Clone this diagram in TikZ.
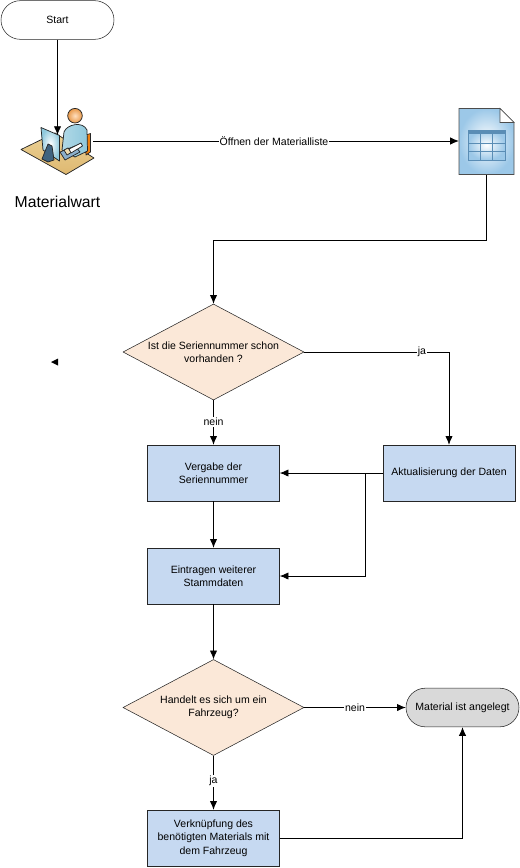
\documentclass[tikz,border=0pt]{standalone}
\usepackage{fontspec}
\setmainfont{Liberation Sans}
\usetikzlibrary{shapes.geometric,shapes.misc,arrows.meta}
\definecolor{boxblue}{HTML}{C6D9F1}
\definecolor{decpeach}{HTML}{FBE8D8}
\definecolor{endgrey}{HTML}{D9D9D9}
\definecolor{linegrey}{HTML}{262626}
\definecolor{deskyellow}{HTML}{E6C67C}
\definecolor{clerkblue}{HTML}{8FC8DC}
\definecolor{docblue}{HTML}{9CC8E8}
\definecolor{gridblue}{HTML}{5A8DB5}
\tikzset{
  flowtext/.style={font=\fontsize{7.9}{10}\selectfont, align=center, text=black},
  terminal/.style={flowtext, draw=linegrey, rounded rectangle, minimum height=29pt, inner sep=0pt},
  procbox/.style={flowtext, draw=linegrey, fill=boxblue, minimum width=99pt, minimum height=42pt, inner sep=0pt},
  decision/.style={flowtext, draw=linegrey, fill=decpeach, diamond, aspect=1.88, minimum width=135.75pt, minimum height=72pt, inner sep=0pt},
  edgelabel/.style={flowtext, fill=white, inner sep=0.6pt},
  flow/.style={draw=black, line width=0.6pt, -{Latex[length=6.5pt,width=5.5pt]}},
  iconline/.style={draw=black!85, line width=0.55pt, line join=round},
}
\begin{document}
\begin{tikzpicture}[x=0.75pt, y=-0.75pt]
    \useasboundingbox (0,0) rectangle (520,868);

    % Define nodes
    \node[terminal, minimum width=84.75pt]             (start) at (57.5,20) {Start};
    \node[inner sep=0pt, minimum width=54pt, minimum height=50pt] (wart) at (57,141) {};
    \node[font=\fontsize{11.8}{13}\selectfont, text=black, inner sep=0pt] (wart-label) at (57.5,202) {Materialwart};
    \node[inner sep=0pt, minimum width=41pt, minimum height=50pt] (list) at (486.5,141.5) {};
    \node[decision]                                    (check) at (213.5,352) {Ist die Seriennummer schon\\vorhanden ?};
    \node[procbox]                                     (assign) at (213.5,473) {Vergabe der\\Seriennummer};
    \node[procbox]                                     (update) at (449,473) {Aktualisierung der Daten};
    \node[procbox]                                     (master) at (213.5,576) {Eintragen weiterer\\Stammdaten};
    \node[decision]                                    (vehicle) at (213.5,707.5) {Handelt es sich um ein\\Fahrzeug?};
    \node[terminal, fill=endgrey, minimum width=84.75pt] (done) at (462.5,707.5) {Material ist angelegt};
    \node[procbox]                                     (link) at (213.5,838) {Verknüpfung des\\benötigten Materials mit\\dem Fahrzeug};
    \coordinate (stray) at (51,362);
    \coordinate (turn-top) at (486.5,240);
    \coordinate (turn-join) at (365,473);

    % Desk and clerk
    \draw[iconline, top color=deskyellow!80!white, bottom color=deskyellow!80!brown] (21,149.5) -- (55,133) -- (94,158) -- (66,174.5) -- cycle;
    \draw[iconline, fill=orange!75!brown] (86,135) -- (90.5,133.5) -- (90.5,152) -- (86,155) -- cycle;
    \draw[iconline, left color=clerkblue!70!white, right color=clerkblue] (64,132) .. controls (67,124) and (83,121) .. (87,130) -- (87.5,151) -- (75,157) -- (62,150) -- cycle;
    \draw[iconline, inner color=orange!25!white, outer color=orange!55!brown!80] (75,115.7) circle (7.3);
    \draw[iconline, fill=gridblue!70!white] (60,152) -- (75,146) -- (80,152) -- (65,160) -- cycle;
    \draw[iconline, fill=deskyellow!60!white] (64,150) -- (68,148) -- (72,152) -- (67,155) -- cycle;
    \draw[iconline, fill=white] (69,149) -- (81,143) -- (82.5,146) -- (71,153) -- cycle;
    \draw[iconline, inner color=white, outer color=clerkblue] (41,127.5) -- (59.5,135.5) -- (59.5,161) -- (43,150) -- cycle;
    \draw[iconline, fill=gridblue!70!black] (42,159) -- (48,144) -- (52,146) -- (54,160) -- (48,162) -- cycle;

    % Table document
    \draw[draw=black!70, line width=0.7pt, inner color=white, outer color=docblue] (459,108.5) -- (500,108.5) -- (514,122.5) -- (514,174.5) -- (459,174.5) -- cycle;
    \draw[draw=black!70, line width=0.5pt, fill=white] (500,108.5) -- (500,122.5) -- (514,122.5) -- cycle;
    \draw[draw=gridblue, line width=0.5pt, inner color=white, outer color=docblue] (468,130) rectangle (505,160);
    \fill[gridblue] (468,130) rectangle (505,134);
    \foreach \x in {480.5,492.5}
      \draw[draw=gridblue, line width=0.6pt] (\x,134) -- (\x,160);
    \foreach \y in {143,151.5}
      \draw[draw=gridblue, line width=0.6pt] (468,\y) -- (505,\y);

    % Connect the nodes
    \draw[flow] (start.south) -- (57.5,135);
    \draw[flow] (wart.east |- 0,141) -- (list.west |- 0,141);
    \draw[flow] (list.south) -- (turn-top) -| (check.north);
    \draw[flow] (check.east) -| (update.north);
    \draw[flow] (check.south) -- (assign.north);
    \draw[flow] (update.west) -- (assign.east);
    \draw[flow] (turn-join) |- (master.east);
    \draw[flow] (assign.south) -- (master.north);
    \draw[flow] (master.south) -- (vehicle.north);
    \draw[flow] (vehicle.east) -- (done.west);
    \draw[flow] (vehicle.south) -- (link.north);
    \draw[flow] (link.east) -| (done.south);

    % Labels on connectors
    \node[edgelabel] (open-label) at (274,141) {Öffnen der Materialliste};
    \node[edgelabel] (ja-top) at (422,352) {ja};
    \node[edgelabel] (nein-top) at (213.5,422) {nein};
    \node[edgelabel] (nein-low) at (355,707.5) {nein};
    \node[edgelabel] (ja-low) at (213.5,781) {ja};

    % Stray arrow head
    \fill[black] (stray) -- ++(7,-3.5) -- ++(0,7) -- cycle;

\end{tikzpicture}
\end{document}
